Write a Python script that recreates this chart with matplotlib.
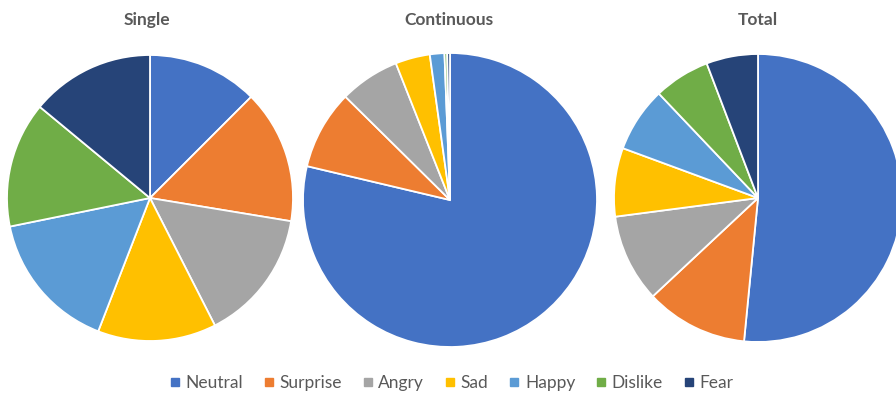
import matplotlib
matplotlib.use("Agg")
import matplotlib.pyplot as plt
from matplotlib.lines import Line2D

categories = ["Neutral", "Surprise", "Angry", "Sad", "Happy", "Dislike", "Fear"]
colors = ["#4472C4", "#ED7D31", "#A5A5A5", "#FFC000", "#5B9BD5", "#70AD47", "#264478"]

single = [12.5, 15.1, 14.9, 13.4, 15.9, 14.2, 14.0]
continuous = [78.7, 8.7, 6.6, 3.8, 1.6, 0.3, 0.3]
total = [51.6, 11.5, 9.9, 7.7, 7.3, 6.3, 5.8]

titles = ["Single", "Continuous", "Total"]
series = [single, continuous, total]

W, H = 896, 393
fig = plt.figure(figsize=(W / 100, H / 100), dpi=100)
ax = fig.add_axes([0, 0, 1, 1])

centers = [(150, H - 198), (450, H - 200), (758, H - 198)]
radii = [143, 147, 144]

for vals, c, r in zip(series, centers, radii):
    ax.pie(vals, colors=colors, startangle=90, counterclock=False,
           center=c, radius=r,
           wedgeprops=dict(edgecolor="white", linewidth=1.3))

ax.set_xlim(0, W)
ax.set_ylim(0, H)
ax.set_aspect("equal")
ax.axis("off")

title_x = [147, 449, 758]
for t, x in zip(titles, title_x):
    fig.text(x / W, 1 - 20 / H, t, ha="center", va="center",
             fontsize=12.5, fontweight="bold", color="#595959", family="Lato")

handles = [Line2D([0], [0], marker="s", linestyle="none", markersize=5.5,
                  markerfacecolor=col, markeredgecolor=col) for col in colors]
leg = fig.legend(handles, categories, loc="center", ncol=7,
                 bbox_to_anchor=(452 / W, 1 - 383 / H), frameon=False,
                 prop={"family": "Lato", "size": 12.5}, handlelength=0.5,
                 handletextpad=0.35, columnspacing=1.25, labelcolor="#595959")

fig.savefig("out.png", dpi=100)
